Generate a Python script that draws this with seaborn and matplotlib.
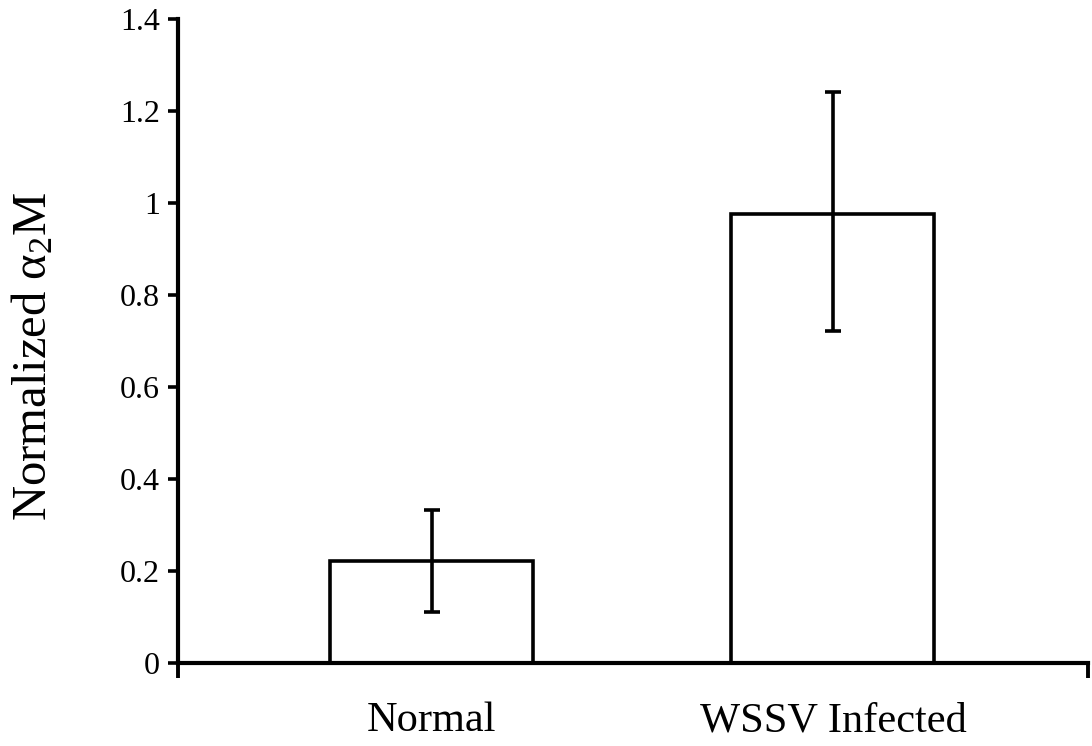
import matplotlib
matplotlib.use("Agg")
import matplotlib.pyplot as plt
import seaborn as sns
import pandas as pd
import numpy as np

categories = ["Normal", "WSSV Infected"]
values = [0.222, 0.976]
err_low = [0.111, 0.255]
err_high = [0.110, 0.266]
y_ticks = [0, 0.2, 0.4, 0.6, 0.8, 1.0, 1.2, 1.4]
y_tick_labels = ["0", "0.2", "0.4", "0.6", "0.8", "1", "1.2", "1.4"]

sns.set_theme(style="white")
plt.rcParams["font.family"] = ["Liberation Serif", "DejaVu Serif"]
plt.rcParams["mathtext.fontset"] = "custom"
plt.rcParams["mathtext.rm"] = "Liberation Serif"
plt.rcParams["mathtext.it"] = "Liberation Serif:italic"
plt.rcParams["mathtext.default"] = "regular"
plt.rcParams["text.color"] = "black"
plt.rcParams["axes.labelcolor"] = "black"
plt.rcParams["xtick.color"] = "black"
plt.rcParams["ytick.color"] = "black"

df = pd.DataFrame({"group": categories, "value": values})

fig = plt.figure(figsize=(10.92, 7.46), dpi=100)
ax = fig.add_axes([178 / 1092, 1 - 663 / 746, 910 / 1092, 644 / 746])

sns.barplot(data=df, x="group", y="value", ax=ax, color="white",
            edgecolor="black", linewidth=2.6, width=0.506, errorbar=None,
            saturation=1)

ax.errorbar(np.arange(len(categories)), values, yerr=[err_low, err_high],
            fmt="none", ecolor="black", elinewidth=2.6, capsize=6,
            capthick=2.6, zorder=5)

ax.set_ylim(0, 1.4)
ax.set_xlim(-0.633, 1.636)

ax.set_yticks(y_ticks)
ax.set_yticklabels(y_tick_labels, fontsize=23)
ax.tick_params(axis="y", direction="out", length=7, width=2.6, pad=6,
               left=True, colors="black")

ax.set_xticks(range(len(categories)))
ax.set_xticklabels(categories, fontsize=30.5)
ax.tick_params(axis="x", which="major", length=0, pad=28, bottom=True,
               colors="black")
ax.set_xticks([-0.633, 1.636], minor=True)
ax.tick_params(axis="x", which="minor", direction="out", length=11, width=2.8,
               bottom=True, colors="black")

for s in ["top", "right"]:
    ax.spines[s].set_visible(False)
for s in ["left", "bottom"]:
    ax.spines[s].set_linewidth(3.0)
    ax.spines[s].set_color("black")

ax.set_xlabel("")
ax.set_ylabel("Normalized α$_2$M", fontsize=35, color="black")
ax.yaxis.set_label_coords(-0.134, 0.477)

fig.savefig("out.png", dpi=100, facecolor="white")
